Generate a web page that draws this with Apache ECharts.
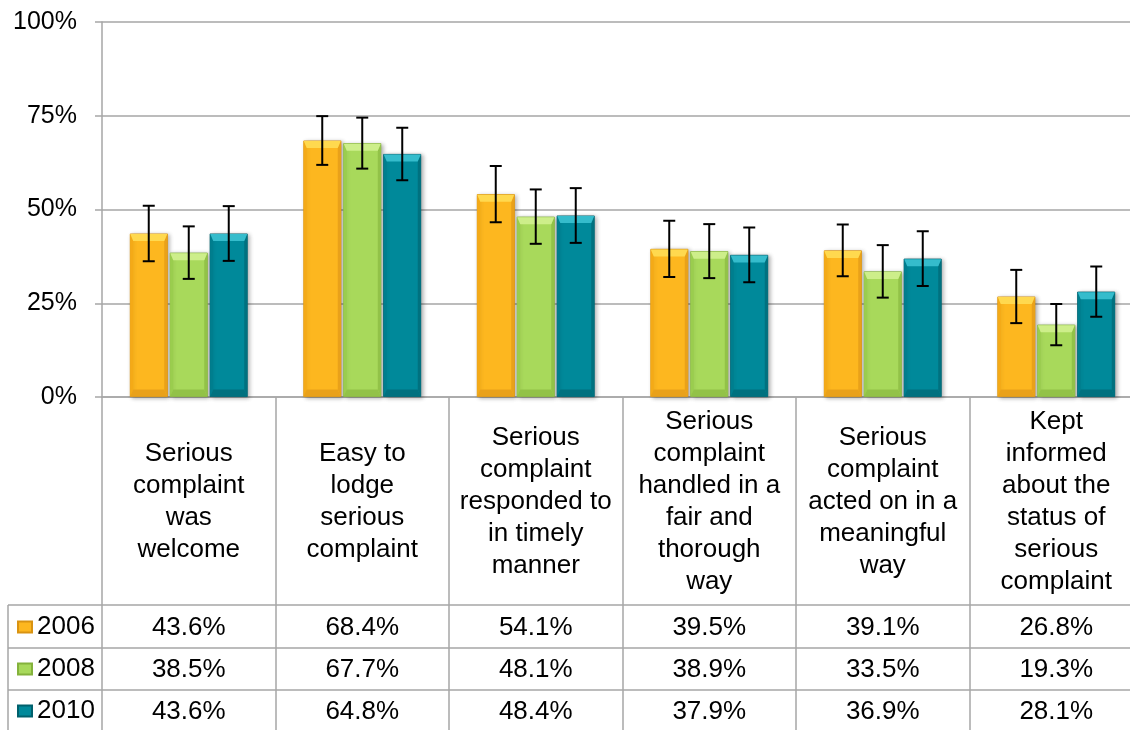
<!DOCTYPE html>
<html>
<head>
<meta charset="utf-8">
<script src="https://cdn.jsdelivr.net/npm/echarts@6/dist/echarts.min.js"></script>
<style>
html,body{margin:0;padding:0;background:#fff;}
#chart{width:1130px;height:730px;}
</style>
</head>
<body>
<div id="chart"></div>
<script>
var categories = [
  'Serious\ncomplaint\nwas\nwelcome',
  'Easy to\nlodge\nserious\ncomplaint',
  'Serious\ncomplaint\nresponded to\nin timely\nmanner',
  'Serious\ncomplaint\nhandled in a\nfair and\nthorough\nway',
  'Serious\ncomplaint\nacted on in a\nmeaningful\nway',
  'Kept\ninformed\nabout the\nstatus of\nserious\ncomplaint'
];
var seriesNames = ['2006', '2008', '2010'];
var v2006 = [43.6, 68.4, 54.1, 39.5, 39.1, 26.8];
var v2008 = [38.5, 67.7, 48.1, 38.9, 33.5, 19.3];
var v2010 = [43.6, 64.8, 48.4, 37.9, 36.9, 28.1];
var e2006 = [7.4, 6.5, 7.5, 7.5, 6.9, 7.1];
var e2008 = [7.0, 6.8, 7.25, 7.2, 7.0, 5.5];
var e2010 = [7.3, 7.0, 7.3, 7.3, 7.3, 6.7];
var yTicks = [0, 25, 50, 75, 100];

var values = [v2006, v2008, v2010];
var errors = [e2006, e2008, e2010];
var palette = [
  {base: '#FDB71F', top: '#FFD94F', side: '#F4AA17', bottom: '#E9A11A', border: '#D99312'},
  {base: '#A8D95B', top: '#CDEE8A', side: '#9ACD4E', bottom: '#92C248', border: '#84B23C'},
  {base: '#00899A', top: '#35BCCC', side: '#007E8E', bottom: '#00717F', border: '#00606C'}
];
var FONT = 'Arial, "Liberation Sans", sans-serif';
var FS = 25, FS_CAT = 26;
var GRID = {left: 102, width: 1041, top: 22, bottom: 333};
var BAR_W = 38, BAR_GAP = 2;

var grids = [], xAxes = [], yAxes = [];
for (var g = 0; g < 4; g++) {
  grids.push({left: GRID.left, width: GRID.width, top: GRID.top, bottom: GRID.bottom,
    containLabel: false, outerBoundsMode: 'none'});
}
xAxes.push({
  type: 'category', gridIndex: 0, data: categories,
  axisLine: {lineStyle: {color: '#A6A6A6', width: 1.5}},
  axisTick: {show: true, length: 333, lineStyle: {color: '#A6A6A6', width: 1.5}},
  axisLabel: {interval: 0, margin: 105, verticalAlign: 'middle', fontFamily: FONT, fontSize: FS_CAT, lineHeight: 32, color: '#000', align: 'center'},
  splitLine: {show: false}
});
var rowMargins = [231, 273, 315];
for (var r = 0; r < 3; r++) {
  xAxes.push({
    type: 'category', gridIndex: r + 1,
    data: values[r].map(function (v) { return v.toFixed(1) + '%'; }),
    axisLine: {show: false}, axisTick: {show: false}, splitLine: {show: false},
    axisLabel: {interval: 0, margin: rowMargins[r], verticalAlign: 'middle', fontFamily: FONT, fontSize: FS_CAT, color: '#000'}
  });
}
yAxes.push({
  type: 'value', gridIndex: 0, min: yTicks[0], max: yTicks[yTicks.length - 1], interval: 25,
  axisLine: {show: true, lineStyle: {color: '#A6A6A6', width: 1.5}},
  axisTick: {show: true, length: 7, lineStyle: {color: '#A6A6A6', width: 1.5}},
  axisLabel: {formatter: '{value}%', margin: 25, fontFamily: FONT, fontSize: FS, color: '#000'},
  splitLine: {lineStyle: {color: '#A6A6A6', width: 1.5}}
});
for (var r2 = 1; r2 < 4; r2++) {
  yAxes.push({type: 'value', gridIndex: r2, show: false, min: 0, max: 100});
}

var series = [];
for (var s = 0; s < 3; s++) {
  series.push({
    name: seriesNames[s], type: 'bar', xAxisIndex: 0, yAxisIndex: 0,
    data: values[s], barWidth: BAR_W, barGap: '5%',
    itemStyle: {color: palette[s].base, borderColor: palette[s].border, borderWidth: 0.8,
      shadowBlur: 4, shadowColor: 'rgba(0,0,0,0.3)', shadowOffsetX: 2, shadowOffsetY: 1},
    emphasis: {disabled: true}, animation: false
  });
}
// bevel overlay on the bars
for (var s3 = 0; s3 < 3; s3++) {
  (function (si) {
    var p = palette[si];
    series.push({
      name: 'bevel' + seriesNames[si], type: 'custom', xAxisIndex: 0, yAxisIndex: 0, z: 3,
      data: values[si].map(function (v, i) { return [i, v]; }),
      renderItem: function (params, api) {
        var i = api.value(0), v = api.value(1);
        var off = (si - 1) * (BAR_W + BAR_GAP);
        var t = api.coord([i, v]);
        var b = api.coord([i, 0]);
        var cx = t[0] + off;
        var x0 = cx - BAR_W / 2 + 0.5, x1 = cx + BAR_W / 2 - 0.5;
        var y0 = t[1] + 0.5, y1 = b[1] - 0.5;
        var bv = Math.min(7, (y1 - y0) / 2), sv = 3;
        return {type: 'group', children: [
          {type: 'polygon', shape: {points: [[x0, y0], [x0 + sv, y0 + bv], [x0 + sv, y1 - bv], [x0, y1]]}, style: {fill: p.side}},
          {type: 'polygon', shape: {points: [[x1, y0], [x1 - sv, y0 + bv], [x1 - sv, y1 - bv], [x1, y1]]}, style: {fill: p.bottom}},
          {type: 'polygon', shape: {points: [[x0, y1], [x0 + sv, y1 - bv], [x1 - sv, y1 - bv], [x1, y1]]}, style: {fill: p.bottom}},
          {type: 'polygon', shape: {points: [[x0, y0], [x1, y0], [x1 - sv, y0 + bv], [x0 + sv, y0 + bv]]}, style: {fill: p.top}}
        ]};
      },
      animation: false, silent: true
    });
  })(s3);
}
for (var s2 = 0; s2 < 3; s2++) {
  (function (si) {
    series.push({
      name: 'err' + seriesNames[si], type: 'custom', xAxisIndex: 0, yAxisIndex: 0, z: 10,
      data: values[si].map(function (v, i) { return [i, v, errors[si][i]]; }),
      renderItem: function (params, api) {
        var i = api.value(0), v = api.value(1), e = api.value(2);
        var off = (si - 1) * (BAR_W + BAR_GAP);
        var top = api.coord([i, v + e]);
        var bot = api.coord([i, v - e]);
        var x = top[0] + off;
        var cap = 6;
        var st = {stroke: '#000', lineWidth: 2};
        return {type: 'group', children: [
          {type: 'line', shape: {x1: x, y1: top[1], x2: x, y2: bot[1]}, style: st},
          {type: 'line', shape: {x1: x - cap, y1: top[1], x2: x + cap, y2: top[1]}, style: st},
          {type: 'line', shape: {x1: x - cap, y1: bot[1], x2: x + cap, y2: bot[1]}, style: st}
        ]};
      },
      animation: false, silent: true
    });
  })(s2);
}

var lineStyle = {stroke: '#A6A6A6', lineWidth: 1.5};
var graphics = [
  {type: 'line', shape: {x1: 8, y1: 605, x2: 1130, y2: 605}, style: lineStyle},
  {type: 'line', shape: {x1: 8, y1: 648, x2: 1130, y2: 648}, style: lineStyle},
  {type: 'line', shape: {x1: 8, y1: 690, x2: 1130, y2: 690}, style: lineStyle},
  {type: 'line', shape: {x1: 8, y1: 605, x2: 8, y2: 730}, style: lineStyle}
];

var legendTops = [614, 656, 698];
var legends = seriesNames.map(function (n, k) {
  return {
    data: [n], orient: 'vertical', left: 17, top: legendTops[k], padding: 0,
    itemWidth: 14, itemHeight: 11, icon: 'rect',
    textStyle: {fontFamily: FONT, fontSize: FS_CAT, lineHeight: 26, color: '#000'},
    selectedMode: false
  };
});

var chart = echarts.init(document.getElementById('chart'), null, {renderer: 'canvas'});
chart.setOption({
  animation: false,
  backgroundColor: '#fff',
  textStyle: {fontFamily: FONT},
  grid: grids,
  xAxis: xAxes,
  yAxis: yAxes,
  legend: legends,
  series: series,
  graphic: graphics
});
</script>
</body>
</html>
